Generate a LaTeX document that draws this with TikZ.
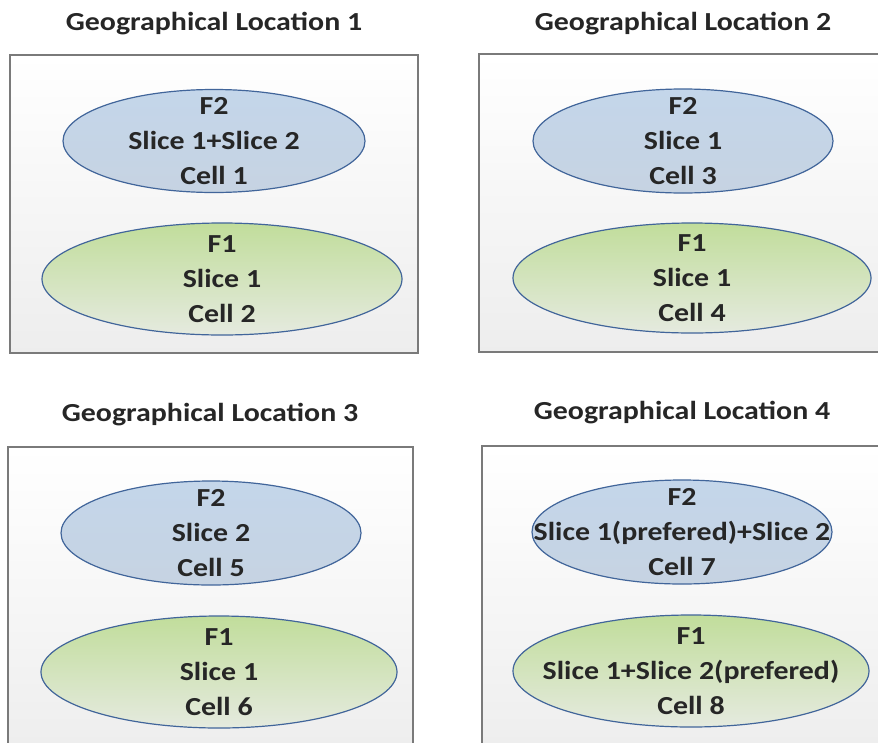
\documentclass[tikz,border=0pt]{standalone}
\usepackage{fontspec}
\setmainfont{Carlito}[FakeStretch=1.15]
\usetikzlibrary{shapes.geometric}
\definecolor{framegray}{HTML}{7A7A7A}
\definecolor{ringblue}{HTML}{41659A}
\definecolor{blueTop}{HTML}{C4D6EA}
\definecolor{blueBot}{HTML}{C6D3E2}
\definecolor{greenTop}{HTML}{C1DD9B}
\definecolor{greenBot}{HTML}{E5EADF}
\tikzset{
  region/.style={draw=framegray, line width=1.7pt, top color=white, bottom color=black!7},
  heading/.style={font=\bfseries\fontsize{26}{30}\selectfont, text=black!85, inner sep=0pt},
  cellbase/.style={ellipse, draw=ringblue, line width=1.2pt, inner sep=0pt},
  fbluecell/.style={cellbase, top color=blueTop, bottom color=blueBot},
  fgreencell/.style={cellbase, top color=greenTop, bottom color=greenBot},
  celltext/.style={align=center, inner sep=0pt, font=\bfseries\fontsize{26}{35}\selectfont, text=black!85},
}
\begin{document}
\begin{tikzpicture}[x=1pt, y=-1pt]
\useasboundingbox (0,0) rectangle (878,742);
\clip (0,0) rectangle (878,742);

% location frames
\path[region] (10,55) rectangle (418,353);
\path[region] (479,54) rectangle (895,352);
\path[region] (8,447) rectangle (413,760);
\path[region] (482,446) rectangle (895,760);

% headings
\node[heading] (t1) at (214,24) {Geographical Location 1};
\node[heading] (t2) at (683,24) {Geographical Location 2};
\node[heading] (t3) at (210,415) {Geographical Location 3};
\node[heading] (t4) at (682,413) {Geographical Location 4};

% location 1
\node[fbluecell, minimum width=302pt, minimum height=103pt] (c1) at (214,141) {};
\node[celltext] (l1) at (c1) {F2\\Slice 1+Slice 2\\Cell 1};
\node[fgreencell, minimum width=360pt, minimum height=112pt] (c2) at (222,279) {};
\node[celltext] (l2) at (c2) {F1\\Slice 1\\Cell 2};

% location 2
\node[fbluecell, minimum width=300pt, minimum height=104pt] (c3) at (683,141) {};
\node[celltext] (l3) at (c3) {F2\\Slice 1\\Cell 3};
\node[fgreencell, minimum width=358pt, minimum height=110pt] (c4) at (692,278) {};
\node[celltext] (l4) at (c4) {F1\\Slice 1\\Cell 4};

% location 3
\node[fbluecell, minimum width=300pt, minimum height=104pt] (c5) at (211,533) {};
\node[celltext] (l5) at (c5) {F2\\Slice 2\\Cell 5};
\node[fgreencell, minimum width=356pt, minimum height=112pt] (c6) at (219,672) {};
\node[celltext] (l6) at (c6) {F1\\Slice 1\\Cell 6};

% location 4
\node[fbluecell, minimum width=300pt, minimum height=104pt] (c7) at (682,532) {};
\node[celltext] (l7) at (c7) {F2\\Slice 1(prefered)+Slice 2\\Cell 7};
\node[fgreencell, minimum width=356pt, minimum height=112pt] (c8) at (691,671) {};
\node[celltext] (l8) at (c8) {F1\\Slice 1+Slice 2(prefered)\\Cell 8};
\end{tikzpicture}
\end{document}
